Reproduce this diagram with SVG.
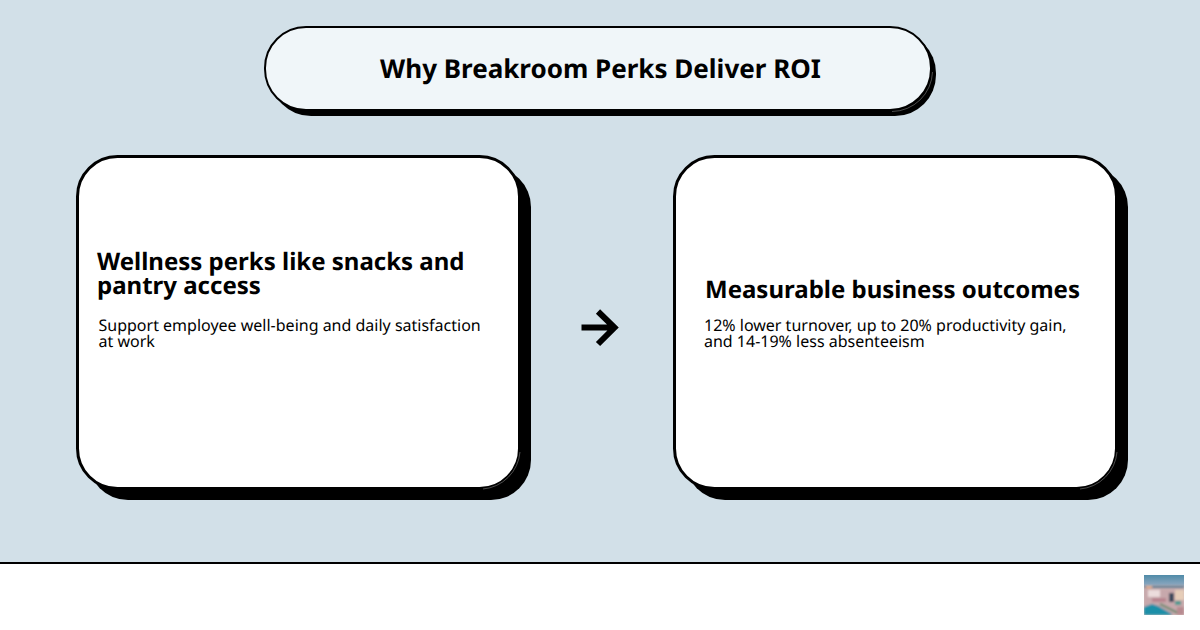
<svg xmlns="http://www.w3.org/2000/svg" width="1200" height="630" viewBox="0 0 1200 630">
<style>
text{font-family:"Noto Sans","Open Sans",sans-serif;fill:#000;text-rendering:geometricPrecision}
.t{font-size:26px;font-weight:700}
.h{font-size:24px;font-weight:700}
.b{font-size:16px}
.card{fill:#fff;stroke:#000;stroke-width:3}
.seam{fill:none;stroke:#9a9a9a;stroke-width:.5}
</style>
<defs>
<linearGradient id="sky" x1="0" y1="0" x2="0" y2="1"><stop offset="0" stop-color="#4f8ba8"/><stop offset="0.22" stop-color="#84a3bc"/><stop offset="0.32" stop-color="#c9b5b5"/><stop offset="1" stop-color="#d9c4c0"/></linearGradient>
<filter id="bl" x="-10%" y="-10%" width="120%" height="120%"><feGaussianBlur stdDeviation="0.9"/></filter>
<clipPath id="thumb"><rect x="1144" y="575" width="40" height="40"/></clipPath>
</defs>
<rect width="1200" height="630" fill="#fff"/>
<rect width="1200" height="562" fill="#d2e0e8"/>
<rect y="562" width="1200" height="2" fill="#000"/>
<g id="title">
<rect x="270" y="32" width="666" height="84" rx="41" fill="#000"/>
<rect x="265" y="27" width="666" height="83" rx="41" fill="#f0f6f9" stroke="#000" stroke-width="2"/>
<path class="seam" d="M932.500 72A41 41 0 0 1 892 111.500"/>
<text class="t" x="600.500" y="78" text-anchor="middle">Why Breakroom Perks Deliver ROI</text>
</g>
<g id="left-card">
<rect x="88" y="167" width="443" height="333" rx="40" fill="#000"/>
<rect class="card" x="77.500" y="156.500" width="442" height="332" rx="40"/>
<path class="seam" d="M520 452A40.500 40.500 0 0 1 483 489"/>
<text class="h" x="97" y="270">Wellness perks like snacks and</text>
<text class="h" x="97" y="294">pantry access</text>
<text class="b" x="98.500" y="331">Support employee well-being and daily satisfaction</text>
<text class="b" x="98.500" y="347">at work</text>
</g>
<g id="right-card">
<rect x="685" y="167" width="443" height="333" rx="40" fill="#000"/>
<rect class="card" x="674.500" y="156.500" width="442" height="332" rx="40"/>
<path class="seam" d="M1117 452A40.500 40.500 0 0 1 1080 489"/>
<text class="h" x="892.500" y="298" text-anchor="middle">Measurable business outcomes</text>
<text class="b" x="704" y="331">12% lower turnover, up to 20% productivity gain,</text>
<text class="b" x="704" y="347">and 14-19% less absenteeism</text>
</g>
<g id="connectors">
<path d="M581.500 327.500H613M598 311.500L614.500 327.500L598 344" fill="none" stroke="#000" stroke-width="6"/>
</g>
<g id="thumbnail" clip-path="url(#thumb)">
<rect x="1144" y="575" width="40" height="40" fill="url(#sky)"/>
<g filter="url(#bl)">
<rect x="1144" y="586" width="40" height="2" fill="#5f7a90"/>
<rect x="1144" y="589" width="40" height="26" fill="#c7a8ac"/>
<rect x="1148" y="590" width="12" height="7" fill="#ecdcdc"/>
<rect x="1146" y="586" width="6" height="3" fill="#d8a890"/>
<rect x="1169" y="593" width="5" height="9" fill="#3d4a5c"/>
<rect x="1175" y="590" width="9" height="10" fill="#e6cdb8"/>
<rect x="1152" y="598" width="14" height="4" fill="#b8848e"/>
<path d="M1144 615V607L1152 604L1158 606L1172 614V615Z" fill="#1f8fa8"/>
<rect x="1175" y="601" width="6" height="4" fill="#4d9a90"/>
<path d="M1160 604L1178 613" stroke="#6d8a70" stroke-width="2"/>
<rect x="1177" y="607" width="7" height="8" fill="#b78a90"/>
</g>
</g>
</svg>
